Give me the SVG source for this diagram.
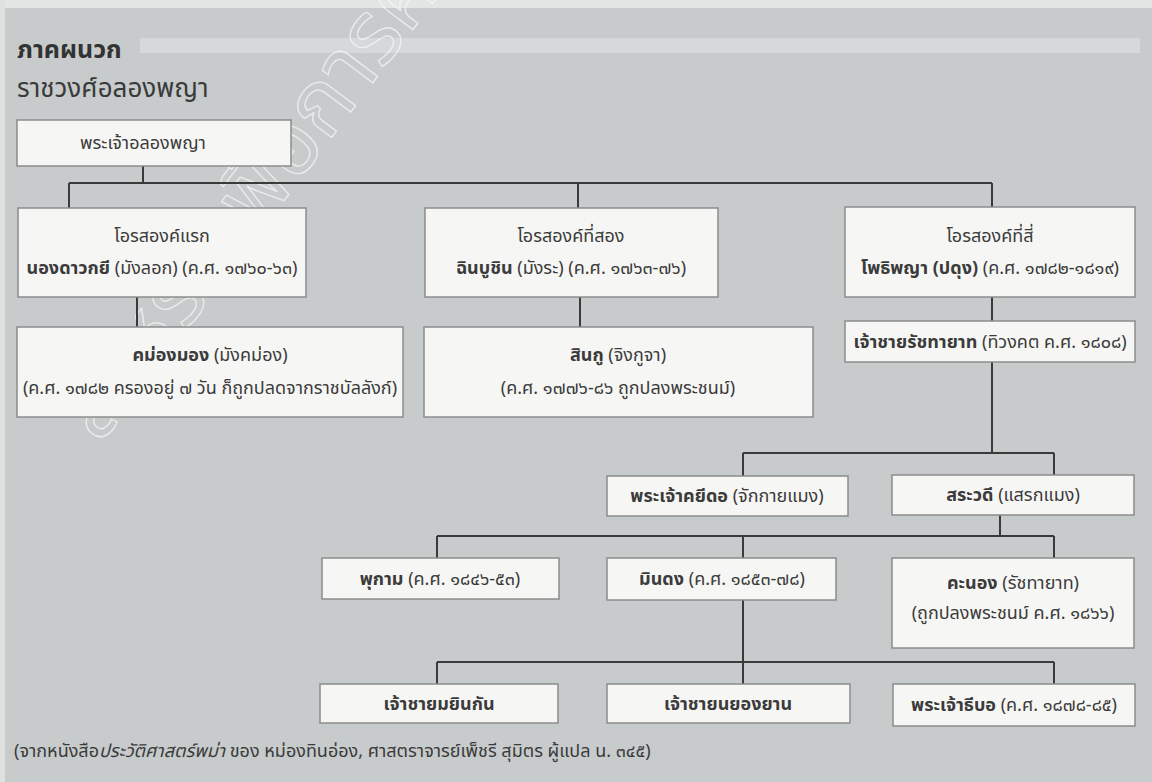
<svg xmlns="http://www.w3.org/2000/svg" width="1152" height="782" viewBox="0 0 1152 782">
<style>
.bg{fill:#c7cbcc}
.box{fill:#f6f6f4;stroke:#8c8c8c;stroke-width:1.5}
.ln{stroke:#3a3a3a;stroke-width:2;fill:none}
.t{font-family:"Noto Sans Thai","Noto Sans","Liberation Sans",sans-serif;font-size:18px;fill:#3b3b3b;text-anchor:middle}
.b{font-weight:bold}
.wm{font-family:"Noto Sans Thai","Noto Sans",sans-serif;font-size:90px;fill:none;stroke:#f6f6f6;stroke-width:1.4;stroke-opacity:0.75}
</style>
<rect class="bg" x="0" y="0" width="1152" height="782"/>
<rect x="0" y="0" width="1152" height="8" fill="#e4e6e6"/>
<rect x="140" y="38" width="1000" height="15" fill="#d5d9d9"/>
<rect x="0" y="0" width="5" height="782" fill="#dfe1e1"/>

<g id="watermark">
<text class="wm" x="0" y="0" transform="translate(100,445) rotate(-53)">สำหรับเพื่อการศึกษา</text>
</g>

<g id="title">
<text x="17" y="58" style="font-family:'Noto Sans Thai','Noto Sans',sans-serif;font-size:25px;font-weight:bold;fill:#333">ภาคผนวก</text>
<text x="17" y="97" style="font-family:'Noto Sans Thai','Noto Sans',sans-serif;font-size:26px;fill:#3a3a3a">ราชวงศ์อลองพญา</text>
</g>

<g id="connectors">
<path class="ln" d="M143,166 V183 M69,183 H992 M69,183 V208 M578,183 V208 M992,183 V208"/>
<path class="ln" d="M137,297 V327 M580,297 V327 M992,297 V321 M992,362 V453"/>
<path class="ln" d="M743,453 H1054 M743,453 V476 M1054,453 V476"/>
<path class="ln" d="M1000,515 V536 M437,536 H1054 M437,536 V558 M743,536 V558 M1054,536 V558"/>
<path class="ln" d="M743,600 V684 M437,662 H1054 M437,662 V684 M1054,662 V684"/>
</g>

<g id="n-alaungpaya">
<rect class="box" x="17" y="120" width="274" height="46"/>
<text class="t" x="143" y="149">พระเจ้าอลองพญา</text>
</g>
<g id="n-naungdawgyi">
<rect class="box" x="18" y="208" width="288" height="89"/>
<text class="t" x="162" y="242">โอรสองค์แรก</text>
<text class="t" x="162" y="274"><tspan class="b">นองดาวกยี</tspan> (มังลอก) (ค.ศ. ๑๗๖๐-๖๓)</text>
</g>
<g id="n-hsinbyushin">
<rect class="box" x="425" y="208" width="293" height="89"/>
<text class="t" x="571" y="242">โอรสองค์ที่สอง</text>
<text class="t" x="571" y="274"><tspan class="b">ฉินบูชิน</tspan> (มังระ) (ค.ศ. ๑๗๖๓-๗๖)</text>
</g>
<g id="n-bodawpaya">
<rect class="box" x="845" y="207" width="290" height="90"/>
<text class="t" x="990" y="242">โอรสองค์ที่สี่</text>
<text class="t" x="990" y="274"><tspan class="b">โพธิพญา (ปดุง)</tspan> (ค.ศ. ๑๗๘๒-๑๘๑๙)</text>
</g>
<g id="n-maungmaung">
<rect class="box" x="17" y="327" width="386" height="90"/>
<text class="t" x="210" y="361"><tspan class="b">คม่องมอง</tspan> (มังคม่อง)</text>
<text class="t" x="210" y="394">(ค.ศ. ๑๗๘๒ ครองอยู่ ๗ วัน ก็ถูกปลดจากราชบัลลังก์)</text>
</g>
<g id="n-singu">
<rect class="box" x="424" y="327" width="389" height="90"/>
<text class="t" x="618" y="361"><tspan class="b">สินกู</tspan> (จิงกูจา)</text>
<text class="t" x="618" y="394">(ค.ศ. ๑๗๗๖-๘๖ ถูกปลงพระชนม์)</text>
</g>
<g id="n-heir">
<rect class="box" x="845" y="321" width="290" height="41"/>
<text class="t" x="990" y="348"><tspan class="b">เจ้าชายรัชทายาท</tspan> (ทิวงคต ค.ศ. ๑๘๐๘)</text>
</g>
<g id="n-bagyidaw">
<rect class="box" x="607" y="476" width="241" height="40"/>
<text class="t" x="727" y="502"><tspan class="b">พระเจ้าคยีดอ</tspan> (จักกายแมง)</text>
</g>
<g id="n-tharrawaddy">
<rect class="box" x="892" y="475" width="242" height="40"/>
<text class="t" x="1013" y="501"><tspan class="b">สระวดี</tspan> (แสรกแมง)</text>
</g>
<g id="n-pagan">
<rect class="box" x="322" y="558" width="237" height="41"/>
<text class="t" x="440" y="585"><tspan class="b">พุกาม</tspan> (ค.ศ. ๑๘๔๖-๕๓)</text>
</g>
<g id="n-mindon">
<rect class="box" x="607" y="558" width="229" height="42"/>
<text class="t" x="722" y="585"><tspan class="b">มินดง</tspan> (ค.ศ. ๑๘๕๓-๗๘)</text>
</g>
<g id="n-kanaung">
<rect class="box" x="892" y="558" width="242" height="90"/>
<text class="t" x="1013" y="589"><tspan class="b">คะนอง</tspan> (รัชทายาท)</text>
<text class="t" x="1013" y="619">(ถูกปลงพระชนม์ ค.ศ. ๑๘๖๖)</text>
</g>
<g id="n-myingun">
<rect class="box" x="320" y="684" width="238" height="39"/>
<text class="t b" x="439" y="710">เจ้าชายมยินกัน</text>
</g>
<g id="n-nyaungyan">
<rect class="box" x="607" y="684" width="243" height="39"/>
<text class="t b" x="728" y="710">เจ้าชายนยองยาน</text>
</g>
<g id="n-thibaw">
<rect class="box" x="893" y="684" width="242" height="42"/>
<text class="t" x="1014" y="711"><tspan class="b">พระเจ้าธีบอ</tspan> (ค.ศ. ๑๘๗๘-๘๕)</text>
</g>

<g id="footer">
<text x="14" y="757" style="font-family:'Noto Sans Thai','Noto Sans',sans-serif;font-size:18px;fill:#3b3b3b">(จากหนังสือ<tspan font-style="italic">ประวัติศาสตร์พม่า</tspan> ของ หม่องทินอ่อง, ศาสตราจารย์เพ็ชรี สุมิตร ผู้แปล น. ๓๔๕)</text>
</g>
</svg>
